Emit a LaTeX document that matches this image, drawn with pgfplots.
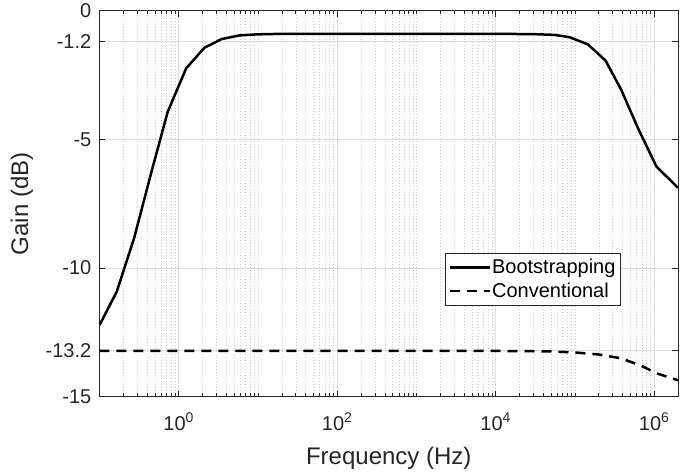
\documentclass[border=0pt]{standalone}
\usepackage{fontspec}
\setmainfont{Liberation Sans}
\usepackage{pgfplots}
\pgfplotsset{compat=1.18}
\definecolor{axc}{rgb}{0.15,0.15,0.15}
\definecolor{gridc}{rgb}{0.87,0.87,0.87}
\definecolor{mgridc}{rgb}{0.80,0.80,0.80}
\begin{document}
\begin{tikzpicture}
\begin{semilogxaxis}[
  scale only axis, width=578.5pt, height=386pt,
  xmin=0.1, xmax=2e6, ymin=-15, ymax=0,
  xtick={1,100,10000,1000000},
  xticklabels={10\textsuperscript{0},10\textsuperscript{2},10\textsuperscript{4},10\textsuperscript{6}},
  minor xtick={0.2,0.3,0.4,0.5,0.6,0.7,0.8,0.9,
    2,3,4,5,6,7,8,9,10,
    20,30,40,50,60,70,80,90,
    200,300,400,500,600,700,800,900,1000,
    2000,3000,4000,5000,6000,7000,8000,9000,
    20000,30000,40000,50000,60000,70000,80000,90000,100000,
    200000,300000,400000,500000,600000,700000,800000,900000},
  ytick={-15,-13.2,-10,-5,-1.2,0},
  yticklabels={-15,-13.2,-10,-5,-1.2,0},
  tick label style={font=\fontsize{20}{24}\selectfont, text=axc},
  xticklabel style={anchor=north, inner sep=0pt, yshift=-16pt},
  yticklabel style={inner sep=0pt, xshift=-8pt},
  xmajorgrids, ymajorgrids, xminorgrids,
  major grid style={gridc, line width=0.5pt},
  minor grid style={mgridc, line width=0.5pt, dash pattern=on 0.6pt off 2.4pt},
  axis line style={axc, line width=0.7pt},
  every tick/.style={axc, line width=0.6pt},
  major tick length=6pt, minor tick length=3.5pt,
  xlabel={Frequency (Hz)}, ylabel={Gain (dB)},
  label style={font=\fontsize{24}{28}\selectfont, text=axc},
  xlabel style={at={(axis description cs:0.5,-0.129)}, anchor=north, inner sep=0pt},
  ylabel style={at={(axis description cs:-0.1144,0.5)}, anchor=south, inner sep=0pt},
  legend cell align=left,
  legend image code/.code={\draw[#1, line width=2.5pt] (0pt,0pt) -- (40pt,0pt);},
  legend style={at={(axis description cs:0.5972,0.3715)}, anchor=north west,
    draw=axc, line width=0.6pt, inner xsep=3pt, inner ysep=4.6pt,
    font=\fontsize{20}{22}\selectfont, row sep=5pt,
    nodes={inner sep=1.3pt}},
]
\addplot[black, line width=2.5pt] table {
0.1 -12.22
0.165 -10.92
0.274 -8.83
0.452 -6.27
0.726 -3.93
1.24 -2.24
2.11 -1.44
3.49 -1.10
5.84 -0.96
9.57 -0.92
16 -0.905
100 -0.90
1000 -0.90
10000 -0.90
30000 -0.91
55400 -0.94
85700 -1.03
146000 -1.31
244000 -1.94
385000 -3.08
624000 -4.56
1070000 -6.06
2000000 -6.88
};
\addlegendentry{Bootstrapping}
\addplot[black, line width=2.5pt, dash pattern=on 10pt off 7pt] table {
0.1 -13.22
10000 -13.22
50000 -13.24
100000 -13.28
200000 -13.36
385000 -13.51
690000 -13.80
1070000 -14.09
2000000 -14.36
};
\addlegendentry{Conventional}
\end{semilogxaxis}
\path ([xshift=-99.5pt,yshift=-75.3pt]current axis.south west) rectangle ([xshift=21pt,yshift=10.7pt]current axis.north east);
\end{tikzpicture}
\end{document}
